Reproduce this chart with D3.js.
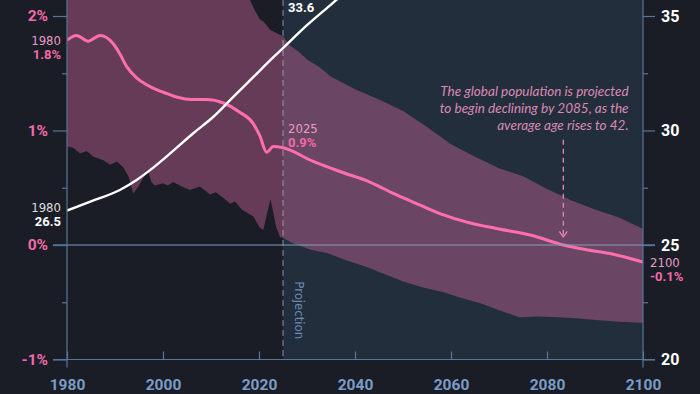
<!DOCTYPE html>
<html lang="en">
<head>
<meta charset="utf-8" />
<title>Population Growth vs Median Age</title>
<script src="https://d3js.org/d3.v7.min.js"></script>
<style>
  body{margin:0;background:#1a1d26;}
  svg{display:block;}
  .num{font-family:Roboto,"DejaVu Sans",sans-serif;font-weight:700;}
  .narrow{font-family:"Liberation Sans Narrow","DejaVu Sans Condensed",sans-serif;}
  .note{font-family:Lato,"Open Sans",sans-serif;font-style:italic;font-weight:400;}
</style>
</head>
<body>
<svg id="chart" width="700" height="394"></svg>
<script>
// -------------- DATA --------------
// annual population growth (%), history + UN projection
const growthHist=[[1980,1.79],[1982,1.83],[1984.4,1.78],[1986.9,1.83],[1989.6,1.76],[1991,1.67],[1992.4,1.56],
  [1994.5,1.46],[1996.6,1.40],[1999,1.35],[2001,1.32],[2003,1.29],[2006,1.27],[2009,1.27],[2012.6,1.24],
  [2016,1.16],[2018.8,1.06],[2020.2,0.95],[2021.6,0.81],[2023,0.86],[2025,0.85]];
const growthProj=[[2025,0.85],[2031.3,0.73],[2037,0.64],[2043.1,0.55],[2048,0.45],[2053.5,0.35],[2058,0.27],
  [2063.3,0.20],[2070,0.14],[2076.5,0.087],[2083.4,0.0],[2088,-0.04],[2093.8,-0.08],[2100,-0.15]];
// median age (years)
const ageYears=[1980,1985,1991,1994.5,1997.3,2001.5,2006.3,2010.5,2014.7,2018.9,2023,2025,2030,2035,2040,2050,2060,2070,2085,2100];
const ageValues=[26.5,26.9,27.4,27.84,28.27,29.0,29.88,30.6,31.48,32.35,33.2,33.6,34.6,35.5,36.4,38.0,39.3,40.5,42.0,43.0];
// growth range band (%)
const bandUpper=[[1980,2.6],[2016,2.6],[2018.1,2.14],[2019,2.06],[2020.2,1.97],[2021,1.95],[2022.3,1.88],[2025,1.82],
  [2026.5,1.74],[2028.5,1.68],[2030,1.62],[2032.7,1.55],[2035,1.47],[2040,1.36],[2045,1.27],[2050,1.17],[2055,1.03],
  [2060,0.88],[2065,0.77],[2070,0.67],[2075,0.60],[2080,0.49],[2085,0.39],[2090,0.31],[2095,0.24],[2100,0.14]];
const bandLower=[[1980,0.86],[1981.3,0.85],[1982.7,0.80],[1984.1,0.82],[1985.5,0.77],[1987.6,0.74],[1989,0.70],
  [1990.4,0.73],[1991.7,0.68],[1992.8,0.60],[1993.8,0.45],[1994.9,0.51],[1995.8,0.58],[1996.9,0.64],[1997.6,0.55],
  [1998.3,0.52],[2000,0.54],[2001,0.52],[2002.1,0.55],[2003.9,0.51],[2005.6,0.48],[2007.7,0.51],[2009.8,0.44],
  [2011,0.46],[2012.6,0.41],[2014,0.36],[2015,0.38],[2016.4,0.31],[2018.8,0.25],[2020.2,0.15],[2020.9,0.13],
  [2021.8,0.30],[2022.4,0.40],[2023,0.28],[2023.6,0.15],[2024.4,0.07],
  [2025.2,0.06],[2027,0.015],[2031,-0.044],[2034.4,-0.073],[2038,-0.13],[2042.3,-0.19],[2046,-0.25],[2050.2,-0.32],
  [2054,-0.37],[2058.3,-0.41],[2062,-0.46],[2066.3,-0.51],[2070,-0.57],[2074.2,-0.63],[2078,-0.625],[2082.2,-0.63],
  [2086,-0.64],[2090.2,-0.655],[2095,-0.67],[2100,-0.68]];

const yearTicks=[1980,2000,2020,2040,2060,2080,2100];
const pctTicks=[-1,0,1,2], pctMinor=[-0.5,0.5,1.5];
const ageTicks=[20,25,30,35], ageMinor=[22.5,27.5,32.5];
const PROJ_START=2025, DECLINE_YEAR=2083.4;
const noteLines=['The global population is projected','to begin declining by 2085, as the','average age rises to 42.'];

// -------------- COLOURS --------------
const PINK='#ff6fae', PINK_TXT='#f26aa8', PINK_PALE='#e59cc2', AXIS='#56769a', GRID='#7f9bc2', XLAB='#7a9cc6';

// -------------- SCALES --------------
const x=d3.scaleLinear().domain([1980,2100]).range([67,643]);
const yPct=d3.scaleLinear().domain([-1,2]).range([359.5,16]);
const yAge=d3.scaleLinear().domain([20,35]).range([359.5,16]);
const plotTop=0, plotBottom=yPct(-1);

const svg=d3.select('#chart');
svg.append('rect').attr('width',700).attr('height',394).attr('fill','#1a1d26');

// projection shade
svg.append('rect').attr('x',x(PROJ_START)).attr('y',plotTop)
  .attr('width',x(2100)-x(PROJ_START)).attr('height',plotBottom-plotTop).attr('fill','#232e3c');

svg.append('clipPath').attr('id','plot').append('rect')
  .attr('x',x(1980)).attr('y',plotTop).attr('width',x(2100)-x(1980)).attr('height',plotBottom-plotTop);
const plot=svg.append('g').attr('clip-path','url(#plot)');

// band
const pts=d3.line().x(d=>x(d[0])).y(d=>yPct(d[1]));
plot.append('path').attr('d',pts(bandUpper.concat(bandLower.slice().reverse()))+'Z')
  .attr('fill','rgba(230,110,170,0.37)');

// 0% gridline + bottom axis line
svg.append('line').attr('x1',x(1980)-14).attr('x2',x(2100)+12).attr('y1',yPct(0)).attr('y2',yPct(0))
  .attr('stroke',GRID).attr('stroke-width',1.2);
svg.append('line').attr('x1',x(1980)-14).attr('x2',x(2100)+12).attr('y1',plotBottom).attr('y2',plotBottom)
  .attr('stroke',AXIS).attr('stroke-width',1.2);

// projection divider
svg.append('line').attr('x1',x(PROJ_START)).attr('x2',x(PROJ_START)).attr('y1',plotTop).attr('y2',plotBottom)
  .attr('stroke','#a9b6c9').attr('stroke-opacity',0.75).attr('stroke-dasharray','6,4');
svg.append('text').attr('class','narrow').attr('transform',`translate(${x(PROJ_START)+15},${yPct(-0.57)}) rotate(90)`)
  .attr('text-anchor','middle').attr('dominant-baseline','middle').attr('font-size',13).attr('fill','#6b8cb6')
  .text('Projection');

// lines
const curve=d3.line().curve(d3.curveMonotoneX).x(d=>x(d[0])).y(d=>yPct(d[1]));
plot.append('path').attr('d',curve(growthHist.concat(growthProj.slice(1))))
  .attr('fill','none').attr('stroke',PINK).attr('stroke-width',3).attr('stroke-linejoin','round');
const ageLine=d3.line().curve(d3.curveMonotoneX).x((d,i)=>x(ageYears[i])).y(d=>yAge(d));
plot.append('path').attr('d',ageLine(ageValues))
  .attr('fill','none').attr('stroke','#fff').attr('stroke-width',2.4);

// -------------- AXES --------------
function styleAxis(g){
  g.select('.domain').remove();
  g.selectAll('.tick line').attr('stroke',AXIS).attr('stroke-width',1.2);
}
// vertical axis lines
[1980,2100].forEach(yr=>{
  svg.append('line').attr('x1',x(yr)).attr('x2',x(yr)).attr('y1',plotTop).attr('y2',plotBottom+8)
    .attr('stroke',AXIS).attr('stroke-width',1.2);
});
svg.append('g').attr('transform',`translate(${x(1980)},0)`)
  .call(d3.axisLeft(yPct).tickValues(pctTicks).tickSize(14).tickPadding(5).tickFormat(d=>d+'%'))
  .call(styleAxis)
  .call(g=>g.selectAll('text').attr('class','num').attr('font-size',15.5).attr('fill',PINK_TXT));
svg.append('g').attr('transform',`translate(${x(1980)},0)`)
  .call(d3.axisLeft(yPct).tickValues(pctMinor).tickSize(5).tickFormat(''))
  .call(styleAxis);
svg.append('g').attr('transform',`translate(${x(2100)},0)`)
  .call(d3.axisRight(yAge).tickValues(ageTicks).tickSize(12).tickPadding(6))
  .call(styleAxis)
  .call(g=>g.selectAll('text').attr('class','num').attr('font-size',16).attr('fill','#fff'));
svg.append('g').attr('transform',`translate(${x(2100)},0)`)
  .call(d3.axisRight(yAge).tickValues(ageMinor).tickSize(5).tickFormat(''))
  .call(styleAxis);
svg.append('g').attr('transform',`translate(0,${plotBottom})`)
  .call(d3.axisBottom(x).tickValues(yearTicks).tickSize(-8).tickPadding(19).tickFormat(d3.format('d')))
  .call(styleAxis)
  .call(g=>g.selectAll('text').attr('class','num').attr('font-size',15.5).attr('fill',XLAB));

// -------------- CALLOUTS --------------
function callout(px,py,anchor,small,big,smallFill,bigFill){
  const g=svg.append('g').attr('text-anchor',anchor);
  if(small) g.append('text').attr('class','narrow').attr('x',px).attr('y',py).attr('font-size',13).attr('fill',smallFill).text(small);
  g.append('text').attr('class','num').attr('x',px).attr('y',py+14).attr('font-size',13).attr('fill',bigFill).text(big);
}
callout(x(1980)-6,yPct(growthHist[0][1])+4.5,'end','1980','1.8%',PINK_PALE,PINK_TXT);
callout(x(1980)-6,yAge(ageValues[0])+1,'end','1980','26.5','#dcdcdc','#fff');
callout(x(2025)+5,yAge(33.6)-50,'start',null,'33.6',null,'#fff');
callout(x(2025)+5,yPct(0.85)-15,'start','2025','0.9%',PINK_PALE,PINK_TXT);
callout(x(2100)+7,yPct(-0.15)+4.5,'start','2100','-0.1%',PINK_PALE,PINK_TXT);

// annotation + arrow
const note=svg.append('text').attr('class','note').attr('text-anchor','end').attr('font-size',13.5).attr('fill','#d98ab5');
noteLines.forEach((t,i)=>note.append('tspan').attr('x',x(2097)).attr('y',yPct(1.3)+i*17).text(t));
svg.append('line').attr('x1',x(DECLINE_YEAR)).attr('x2',x(DECLINE_YEAR)).attr('y1',yPct(0.92)).attr('y2',yPct(0.07))
  .attr('stroke','#e286b6').attr('stroke-width',1.3).attr('stroke-dasharray','5,4');
svg.append('path').attr('d',d3.line()([[x(DECLINE_YEAR)-4,yPct(0.12)],[x(DECLINE_YEAR),yPct(0.07)],[x(DECLINE_YEAR)+4,yPct(0.12)]]))
  .attr('fill','none').attr('stroke','#e286b6').attr('stroke-width',1.3);
</script>
</body>
</html>
